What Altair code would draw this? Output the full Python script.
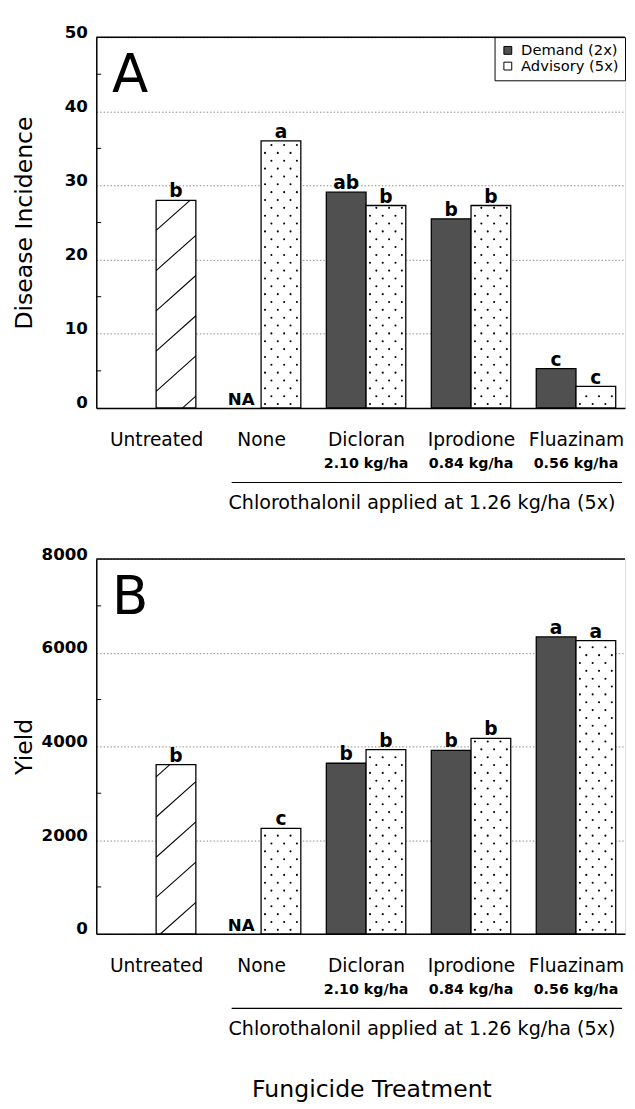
import json
import altair as alt
import pandas as pd

# ---------------- data ----------------
treatments = ["Untreated", "None", "Dicloran", "Iprodione", "Fluazinam"]
doses = ["", "", "2.10 kg/ha", "0.84 kg/ha", "0.56 kg/ha"]
series_names = ["Demand (2x)", "Advisory (5x)"]
untreated_style = "Untreated"
panel_letters = ["A", "B"]
y_titles = ["Disease Incidence", "Yield"]
x_title = "Fungicide Treatment"
bracket_text = "Chlorothalonil applied at 1.26 kg/ha (5x)"

# Panel A: disease incidence
inc_demand = [None, None, 29.1, 25.5, 5.3]
inc_advisory = [28.0, 36.0, 27.3, 27.3, 2.9]
inc_letters_demand = ["", "NA", "ab", "b", "c"]
inc_letters_advisory = ["b", "a", "b", "b", "c"]
inc_ticks = [0, 10, 20, 30, 40, 50]
inc_minor = [5, 15, 25, 35, 45]

# Panel B: yield
yld_demand = [None, None, 3640, 3915, 6337]
yld_advisory = [3610, 2250, 3930, 4170, 6260]
yld_letters_demand = ["", "NA", "b", "b", "a"]
yld_letters_advisory = ["b", "c", "b", "b", "a"]
yld_ticks = [0, 2000, 4000, 6000, 8000]
yld_minor = [1000, 3000, 5000, 7000]

# ---------------- style / layout ----------------
FONT = "DejaVu Sans"
W = 539
STEP = 107.0            # px per treatment group
X0 = 61.0               # px from plot left to first group centre
XMIN = -X0 / STEP
XMAX = XMIN + W / STEP
BW_PX = 40.5
BW = BW_PX / STEP
DEMAND_FILL = "#505050"
# textures
ROW = 8.0
COL = 13.0
DOT0 = 4.0
SP = 41.0
RISE = 36.0


def make_df(demand, advisory, let_d, let_a):
    rows = []
    for i in range(len(treatments)):
        style_a = series_names[1] if i > 0 else untreated_style
        rows.append(dict(i=i, slot=0, style=series_names[0], value=demand[i], letter=let_d[i]))
        rows.append(dict(i=i, slot=1, style=style_a, value=advisory[i], letter=let_a[i]))
    return pd.DataFrame(rows)


def panel(df, H, ymax, ticks, minor, ytitle, letter, phase, bottom_title=None):
    YPU = H / ymax
    xs = alt.Scale(domain=[XMIN, XMAX], nice=False, zero=False)
    ys = alt.Scale(domain=[0, ymax], nice=False, zero=True)

    xaxis = alt.Axis(
        values=list(range(len(treatments))),
        labelExpr=f"{json.dumps(treatments)}[datum.value]",
        ticks=False, grid=False, domainColor="black", domainWidth=1.5,
        title=None, labelFont=FONT, labelFontSize=19, labelColor="black",
        labelPadding=32, labelBaseline="middle", labelAlign="center",
        labelFlush=False, labelOverlap=False,
    )
    yaxis = alt.Axis(
        values=ticks, format="d", grid=True, gridDash=[1.5, 2], gridColor="#8a8a8a", gridWidth=1,
        ticks=False, domainColor="black", domainWidth=1.5,
        labelFont=FONT, labelFontSize=17, labelFontWeight="bold", labelColor="black",
        labelBaseline="alphabetic", labelPadding=9, labelOverlap=False,
        title=ytitle, titleFont=FONT, titleFontSize=24, titleFontWeight="normal",
        titleColor="black", titleX=-73, titleY=H / 2, titleAlign="center",
        titleBaseline="middle", titleAngle=270,
    )

    def X(f):
        return alt.X(f, scale=xs, axis=xaxis)

    def Y(f):
        return alt.Y(f, scale=ys, axis=yaxis)

    base = alt.Chart(df).transform_calculate(
        xl=f"datum.i + (datum.slot - 1) * {BW}",
    ).transform_calculate(
        xr=f"datum.xl + {BW}",
        xc=f"datum.xl + {BW / 2}",
    )

    bars = base.transform_filter("isValid(datum.value)").mark_rect(
        stroke="black", strokeWidth=1.3
    ).encode(
        x=X("xl:Q"),
        x2="xr:Q",
        y=Y("value:Q"),
        y2=alt.datum(0),
        fill=alt.Fill(
            "style:N",
            scale=alt.Scale(domain=[series_names[0], series_names[1], untreated_style],
                            range=[DEMAND_FILL, "white", "white"]),
            legend=alt.Legend(
                title=None, orient="top-right", offset=0, values=series_names,
                symbolType="square", symbolSize=64, symbolStrokeColor="black",
                symbolStrokeWidth=1, labelFont=FONT, labelFontSize=15,
                labelColor="black", strokeColor="black", fillColor="white",
                padding=6, rowPadding=0, labelOffset=6, cornerRadius=0,
            ),
        ),
    )

    hatch = base.transform_filter(f"datum.style == '{untreated_style}'").transform_calculate(
        k="sequence(0, 14)"
    ).transform_flatten(["k"]).transform_calculate(
        a=f"datum.k * {SP} + {phase}",
        top=f"datum.value * {YPU}",
    ).transform_calculate(
        tlo=f"max(0, -datum.a / {RISE})",
        thi=f"min(1, (datum.top - datum.a) / {RISE})",
    ).transform_filter("datum.thi > datum.tlo").transform_calculate(
        hx1=f"datum.xl + datum.tlo * {BW}",
        hx2=f"datum.xl + datum.thi * {BW}",
        hy1=f"(datum.a + datum.tlo * {RISE}) / {YPU}",
        hy2=f"(datum.a + datum.thi * {RISE}) / {YPU}",
    ).mark_rule(color="black", strokeWidth=1.1).encode(
        x=X("hx1:Q"), x2="hx2:Q",
        y=Y("hy1:Q"), y2="hy2:Q",
    )

    dots = base.transform_filter(f"datum.style == '{series_names[1]}'").transform_calculate(
        r=f"sequence(0, floor(datum.value * {YPU} / {ROW}) + 1)"
    ).transform_flatten(["r"]).transform_calculate(
        c="sequence(0, 3)"
    ).transform_flatten(["c"]).transform_calculate(
        off=f"{DOT0} + (datum.r % 2) * {COL / 2} + datum.c * {COL}",
        dyp=f"(datum.r + 0.5) * {ROW}",
    ).transform_filter(
        f"datum.off <= {BW_PX - 3} && datum.dyp <= datum.value * {YPU} - 2"
    ).transform_calculate(
        dx=f"datum.xl + datum.off / {STEP}",
        dy=f"datum.dyp / {YPU}",
    ).mark_circle(size=4.5, color="black", opacity=1).encode(
        x=X("dx:Q"),
        y=Y("dy:Q"),
    )

    letters = base.transform_filter("isValid(datum.value) && datum.letter != ''").mark_text(
        font=FONT, fontSize=19, fontWeight="bold", baseline="alphabetic", dy=-3, color="black"
    ).encode(
        x=X("xc:Q"),
        y=Y("value:Q"),
        text="letter:N",
    )

    na = base.transform_filter("!isValid(datum.value) && datum.letter != ''").transform_calculate(
        zero="0"
    ).mark_text(
        font=FONT, fontSize=17, fontWeight="bold", baseline="alphabetic", dy=-3, color="black"
    ).encode(
        x=X("xc:Q"),
        y=Y("zero:Q"),
        text="letter:N",
    )

    mt = alt.Chart(pd.DataFrame({"t": minor})).mark_rule(color="black", strokeWidth=1).encode(
        x=alt.value(0), x2=alt.value(5), y=Y("t:Q")
    )
    frame = alt.Chart(pd.DataFrame({"t": [ymax]})).mark_rule(color="black", strokeWidth=1.5).encode(
        x=alt.value(0), x2=alt.value(W), y=Y("t:Q")
    )
    big = alt.Chart(pd.DataFrame({"t": [letter]})).mark_text(
        font=FONT, fontSize=54, align="left", baseline="alphabetic", color="black"
    ).encode(x=alt.value(16), y=alt.value(56), text="t:N")

    dose_df = pd.DataFrame({"i": list(range(len(treatments))), "dose": doses})
    dose = alt.Chart(dose_df).transform_filter("datum.dose != ''").mark_text(
        font=FONT, fontSize=14.5, fontWeight="bold", baseline="middle", color="black"
    ).encode(x=X("i:Q"), y=alt.value(H + 57), text="dose:N")

    br = alt.Chart(pd.DataFrame({"t": [bracket_text]}))
    bline = br.mark_rule(color="black", strokeWidth=1.2).encode(
        x=alt.value(138), x2=alt.value(536), y=alt.value(H + 76)
    )
    btxt = br.mark_text(font=FONT, fontSize=19.5, baseline="middle", color="black").encode(
        x=alt.value(332), y=alt.value(H + 97), text="t:N"
    )

    layers = [bars, hatch, dots, letters, na, mt, frame, big, dose, bline, btxt]
    if bottom_title:
        ft = alt.Chart(pd.DataFrame({"t": [bottom_title]})).mark_text(
            font=FONT, fontSize=24, baseline="middle", color="black"
        ).encode(x=alt.value(281), y=alt.value(H + 159), text="t:N")
        layers.append(ft)
    return alt.layer(*layers).properties(width=W, height=H)


df_a = make_df(inc_demand, inc_advisory, inc_letters_demand, inc_letters_advisory)
df_b = make_df(yld_demand, yld_advisory, yld_letters_demand, yld_letters_advisory)

pa = panel(df_a, 378, 50, inc_ticks, inc_minor, y_titles[0], panel_letters[0], -24)
pb = panel(df_b, 382, 8000, yld_ticks, yld_minor, y_titles[1], panel_letters[1], -4, x_title)

chart = alt.vconcat(pa, pb, spacing=32).properties(
    padding={"left": 4, "top": 4, "right": 0, "bottom": 0}
).configure_view(stroke="transparent", strokeWidth=0).configure(font=FONT)

chart.save("out.html", embed_options={"renderer": "svg", "actions": False})
